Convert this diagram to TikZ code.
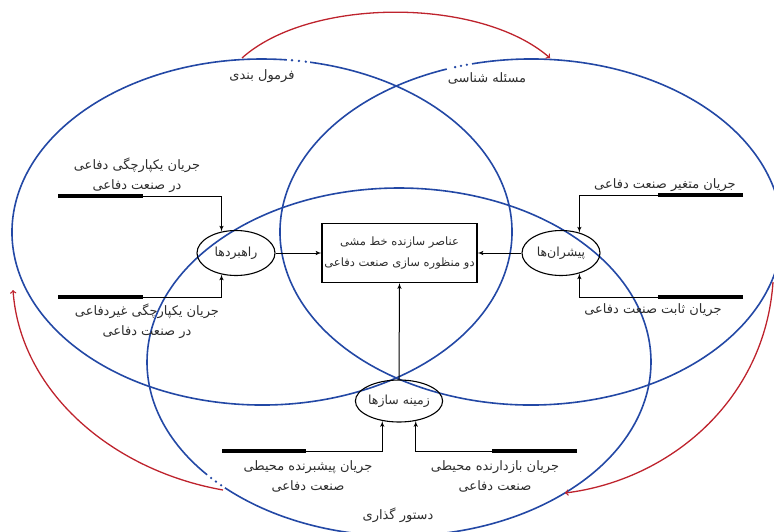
\documentclass[tikz,border=0pt]{standalone}
\usepackage{fontspec}
\newfontfamily\farsi[Script=Arabic]{DejaVu Sans}
\TeXXeTstate=1
\usepackage{tikz}
\usetikzlibrary{arrows,shapes.geometric}
\newcommand{\fa}[1]{\beginR #1\endR}
\definecolor{ringblue}{RGB}{35,72,165}
\definecolor{loopred}{RGB}{190,35,45}
\definecolor{ink}{RGB}{45,45,45}
\tikzset{
    ring/.style={draw=ringblue,line width=1.6pt},
    loop/.style={->,draw=loopred,line width=1.3pt},
    oval/.style={ellipse,draw,line width=1.1pt,minimum width=78,minimum height=45,inner sep=0,font=\farsi\fontsize{12.5}{14}\selectfont,text=ink},
    mainbox/.style={rectangle,draw,line width=1.1pt,minimum width=155,minimum height=59,inner sep=0,align=center,font=\farsi\fontsize{11.5}{21}\selectfont,text=ink},
    flow/.style={align=center,inner sep=0,font=\farsi\fontsize{13}{20}\selectfont,text=ink},
    bar/.style={line width=4pt},
    edge/.style={->,> = latex',line width=1pt}
}
\begin{document}
\begin{tikzpicture}[x=1pt,y=-1pt]
\useasboundingbox (0,0) rectangle (774,531);

\draw[ring] (262,232) ++(281.1:250 and 173) arc[start angle=281.1,end angle=635.7,x radius=250,y radius=173];
\draw[ring] (531,232) ++(256.4:251 and 173) arc[start angle=256.4,end angle=610.4,x radius=251,y radius=173];
\draw[ring] (399,362) ++(139.6:252 and 174) arc[start angle=139.6,end angle=493.7,x radius=252,y radius=174];
\foreach \t in {276.9,278.5,280.1} \fill[ringblue] (262,232) ++(\t:250 and 173) circle[radius=1.3];
\foreach \t in {252.4,253.8,255.2} \fill[ringblue] (531,232) ++(\t:251 and 173) circle[radius=1.3];
\foreach \t in {138.2,136.6,134.9} \fill[ringblue] (399,362) ++(\t:252 and 174) circle[radius=1.3];

\node[flow] (formul) at (262,76) {\fa{فرمول بندی}};
\node[flow] (masale) at (487,78) {\fa{مسئله شناسی}};
\node[flow] (dastur) at (398,515) {\fa{دستور گذاری}};

\coordinate (f1) at (242,58);
\coordinate (m1) at (550,58);
\coordinate (m2) at (773,282);
\coordinate (d1) at (565,493);
\coordinate (d2) at (223,490);
\coordinate (f2) at (13,290);
\draw[loop] (f1) .. controls (310,-3) and (480,-3) .. (m1);
\draw[loop] (m2) .. controls (765,400) and (670,480) .. (d1);
\draw[loop] (d2) .. controls (110,470) and (20,390) .. (f2);

\node[mainbox] (box) at (399.5,253) {\fa{عناصر سازنده خط مشی}\\\fa{دو منظوره سازی صنعت دفاعی}};
\node[oval] (rahbord) at (236,253) {\fa{راهبردها}};
\node[oval] (pishran) at (561,253) {\fa{پیشران^^^^200cها}};
\node[oval,minimum width=76,minimum height=42] (zamine) at (399,401) {\fa{زمینه سازها}};

\draw[edge] (rahbord.east) -- (box.west);
\draw[edge] (pishran.west) -- (box.east);
\draw[edge] (zamine.north) -- (box.south);

\node[flow] (l1) at (137,175) {\fa{جریان یکپارچگی دفاعی}\\\fa{در صنعت دفاعی}};
\node[flow] (l2) at (147,321) {\fa{جریان یکپارچگی غیردفاعی}\\\fa{در صنعت دفاعی}};
\node[flow] (r1) at (665,185) {\fa{جریان متغیر صنعت دفاعی}};
\node[flow] (r2) at (653,310) {\fa{جریان ثابت صنعت دفاعی}};
\node[flow] (b1) at (308,476) {\fa{جریان پیشبرنده محیطی}\\\fa{صنعت دفاعی}};
\node[flow] (b2) at (495,476) {\fa{جریان بازدارنده محیطی}\\\fa{صنعت دفاعی}};

\coordinate (l1a) at (58,196);
\coordinate (l1b) at (143,196);
\coordinate (l2a) at (58,297);
\coordinate (l2b) at (143,297);
\coordinate (r1a) at (743,195);
\coordinate (r1b) at (658,195);
\coordinate (r2a) at (743,297);
\coordinate (r2b) at (658,297);
\coordinate (b1a) at (222,451);
\coordinate (b1b) at (306,451);
\coordinate (b2a) at (577,451);
\coordinate (b2b) at (492,451);

\draw[bar] (l1a) -- (l1b);
\draw[bar] (l2a) -- (l2b);
\draw[bar] (r1a) -- (r1b);
\draw[bar] (r2a) -- (r2b);
\draw[bar] (b1a) -- (b1b);
\draw[bar] (b2a) -- (b2b);

\draw[edge] (l1b) -| (rahbord.124);
\draw[edge] (l2b) -| (rahbord.-124);
\draw[edge] (r1b) -| (pishran.48);
\draw[edge] (r2b) -| (pishran.-48);
\draw[edge] (b1b) -| (zamine.-130);
\draw[edge] (b2b) -| (zamine.-50);

\end{tikzpicture}
\end{document}
